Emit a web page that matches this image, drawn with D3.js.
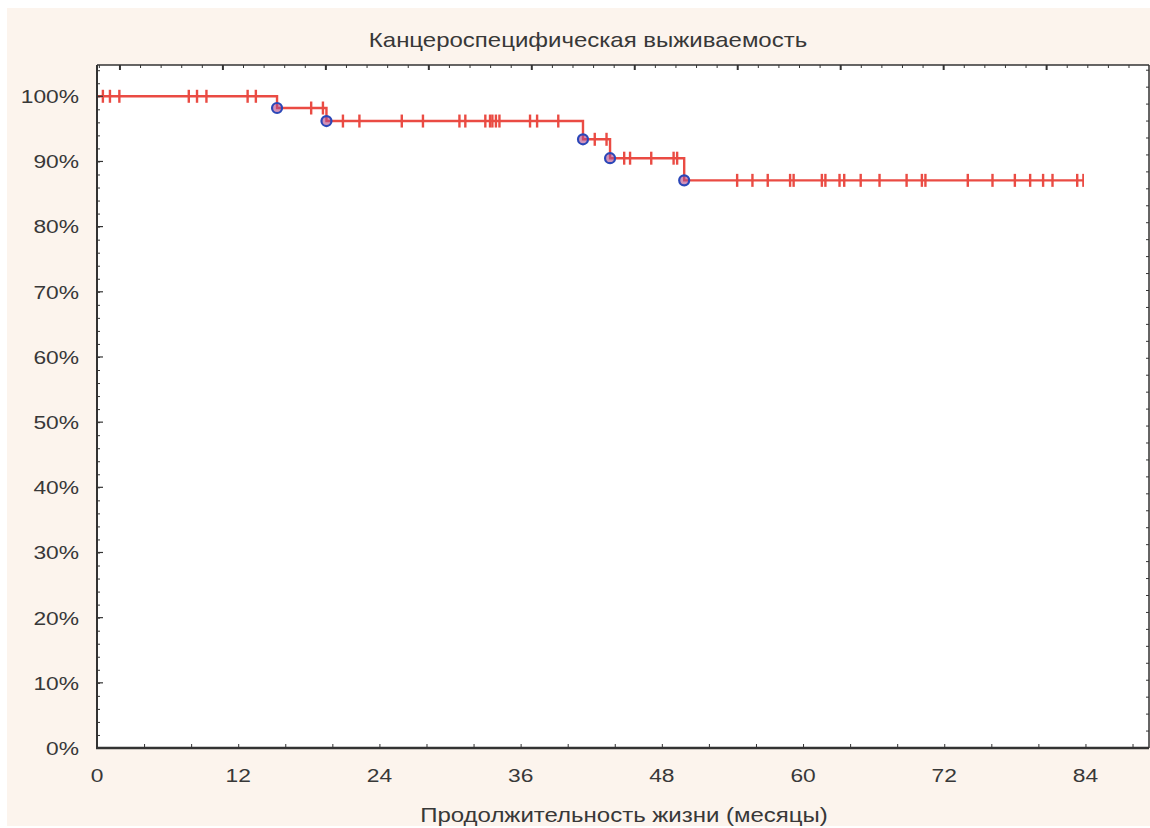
<!DOCTYPE html>
<html>
<head>
<meta charset="utf-8">
<script src="https://cdn.jsdelivr.net/npm/d3@7"></script>
<style>
  html, body { margin: 0; padding: 0; background: #ffffff; }
  svg { display: block; }
  text { font-family: "Liberation Sans", Arial, sans-serif; fill: #383838; }
</style>
</head>
<body>
<svg id="chart" width="1150" height="828"></svg>
<script>
// ---- Data ----
const titleText = "Канцероспецифическая выживаемость";
const xAxisTitle = "Продолжительность жизни (месяцы)";
const xTicks = [0, 12, 24, 36, 48, 60, 72, 84];
const yTicks = [0, 10, 20, 30, 40, 50, 60, 70, 80, 90, 100];
// event (death) times in months and survival (%) after each event
const eventTimes = [15.3, 19.5, 41.3, 43.6, 49.9];
const survivalAfter = [98.2, 96.2, 93.4, 90.5, 87.1];
// censored observations (months)
const censorTimes = [
  0.5, 1.1, 1.9, 7.8, 8.5, 9.3, 12.8, 13.5,
  18.2, 19.2,
  20.9, 22.3, 25.9, 27.7, 30.8, 31.3, 33.0, 33.4, 33.6, 33.9, 34.2, 36.8, 37.4, 39.2,
  42.3, 43.3,
  44.8, 45.3, 47.1, 49.0, 49.3,
  54.4, 55.7, 57.0, 58.9, 59.2, 61.6, 61.9, 63.1, 63.5, 64.9, 66.5, 68.8, 70.1, 70.4,
  74.0, 76.1, 78.0, 79.3, 80.4, 81.2, 83.3
];
const lastTime = 83.8;
const startSurvival = 100;

// ---- Layout ----
const svg = d3.select("#chart");
const L = 97, R = 1149, T = 65, B = 748;
const x = d3.scaleLinear().domain([0, 89.4]).range([L, R]);
const y = d3.scaleLinear().domain([0, 104.8]).range([B, T]);
const SX = 1.2; // horizontal stretch of text in the reference

// background panel
svg.append("rect").attr("x", 7).attr("y", 8).attr("width", 1143).attr("height", 818)
  .attr("fill", "#fcf4ed");
svg.append("rect").attr("x", L).attr("y", T).attr("width", R - L).attr("height", B - T)
  .attr("fill", "#ffffff");

// survival function
function S(t) {
  let s = startSurvival;
  eventTimes.forEach((e, i) => { if (e <= t) s = survivalAfter[i]; });
  return s;
}

// step path
const steps = [[0, startSurvival]];
eventTimes.forEach((e, i) => {
  steps.push([e, i === 0 ? startSurvival : survivalAfter[i - 1]]);
  steps.push([e, survivalAfter[i]]);
});
steps.push([lastTime, survivalAfter[survivalAfter.length - 1]]);

const line = d3.line().x(d => x(d[0])).y(d => y(d[1]));
const red = "#ea4b43";
svg.append("path").datum(steps).attr("d", line)
  .attr("fill", "none").attr("stroke", red).attr("stroke-width", 2.4);

// censor marks
svg.append("g").selectAll("line").data(censorTimes).join("line")
  .attr("x1", d => x(d)).attr("x2", d => x(d))
  .attr("y1", d => y(S(d)) - 6.5).attr("y2", d => y(S(d)) + 6.5)
  .attr("stroke", red).attr("stroke-width", 2.4);
// end mark
svg.append("line")
  .attr("x1", x(lastTime)).attr("x2", x(lastTime))
  .attr("y1", y(S(lastTime)) - 6.5).attr("y2", y(S(lastTime)) + 6.5)
  .attr("stroke", red).attr("stroke-width", 1.8);

// event circles
svg.append("g").selectAll("circle").data(eventTimes).join("circle")
  .attr("cx", d => x(d)).attr("cy", (d, i) => y(survivalAfter[i]))
  .attr("r", 5).attr("fill", "#b24a8a").attr("fill-opacity", 0.6)
  .attr("stroke", "#2b47b8").attr("stroke-width", 2.2);

// ---- Axes ----
const axisColor = "#333333";
// bottom axis (ticks inward)
const xAxis = d3.axisBottom(x).tickValues(d3.range(0, 89.4, 4)).tickSize(-4).tickFormat("");
const gx = svg.append("g").attr("transform", `translate(0,${B})`).call(xAxis);
gx.select(".domain").remove();
gx.selectAll("line").attr("stroke", axisColor).attr("stroke-width", 1);
svg.append("g").selectAll("text").data(xTicks).join("text")
  .attr("transform", d => `translate(${x(d)},782) scale(${SX},1)`)
  .attr("text-anchor", "middle").attr("font-size", 19).text(d => d);

// left axis
const yAxis = d3.axisLeft(y).tickValues(d3.range(0, 104.8, 2)).tickSize(-3).tickFormat("");
const gy = svg.append("g").attr("transform", `translate(${L},0)`).call(yAxis);
gy.select(".domain").remove();
gy.selectAll("line").attr("stroke", axisColor).attr("stroke-width", 1);
svg.append("g").selectAll("line.maj").data(yTicks).join("line")
  .attr("x1", L).attr("x2", L + 6).attr("y1", d => y(d)).attr("y2", d => y(d))
  .attr("stroke", axisColor).attr("stroke-width", 1.2);
svg.append("g").selectAll("text").data(yTicks).join("text")
  .attr("transform", d => `translate(79,${y(d)}) scale(${SX},1)`)
  .attr("dy", "0.36em")
  .attr("text-anchor", "end").attr("font-size", 19).text(d => d + "%");

// top axis ticks (decorative, inward)
const topTicks = d3.range(0.2, 89.4, 1.75);
svg.append("g").selectAll("line").data(topTicks).join("line")
  .attr("x1", d => x(d)).attr("x2", d => x(d))
  .attr("y1", T).attr("y2", (d, i) => T + (i % 5 === 1 ? 5 : 3))
  .attr("stroke", axisColor).attr("stroke-width", (d, i) => i % 5 === 1 ? 2 : 1);

// right axis ticks (decorative, inward)
const rightTicks = d3.range(0, 104.8, 2.6);
svg.append("g").selectAll("line").data(rightTicks).join("line")
  .attr("x1", R).attr("x2", R - 3)
  .attr("y1", d => y(d)).attr("y2", d => y(d))
  .attr("stroke", axisColor).attr("stroke-width", 1);

// frame
svg.append("line").attr("x1", L).attr("x2", R).attr("y1", T).attr("y2", T)
  .attr("stroke", axisColor).attr("stroke-width", 1.5);
svg.append("line").attr("x1", R).attr("x2", R).attr("y1", T).attr("y2", B)
  .attr("stroke", axisColor).attr("stroke-width", 1.5);
svg.append("line").attr("x1", L).attr("x2", L).attr("y1", T).attr("y2", B + 1)
  .attr("stroke", axisColor).attr("stroke-width", 2);
svg.append("line").attr("x1", L - 1).attr("x2", R).attr("y1", B).attr("y2", B)
  .attr("stroke", axisColor).attr("stroke-width", 2.5);

// titles
svg.append("text").attr("transform", `translate(588,47) scale(${SX},1)`)
  .attr("text-anchor", "middle").attr("font-size", 20).text(titleText);
svg.append("text").attr("transform", `translate(624,822) scale(${SX},1)`)
  .attr("text-anchor", "middle").attr("font-size", 20).text(xAxisTitle);
</script>
</body>
</html>
